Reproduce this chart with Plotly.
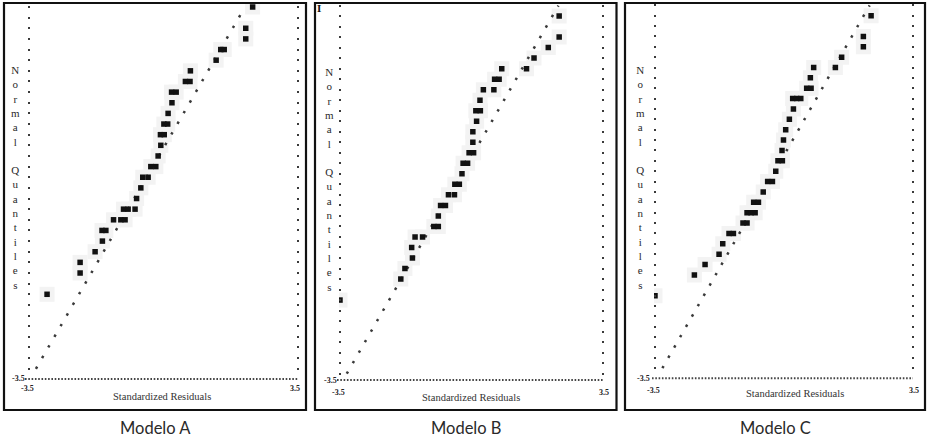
import plotly.graph_objects as go

W, H = 931, 443

# ---------------- data ----------------
model_names = ["Modelo A", "Modelo B", "Modelo C"]

resid_a = [2.32, 2.14, 2.14, 1.49, 1.58, 1.37, 0.70, 0.57, 0.69, 0.21, 0.33, 0.22, 0.12,
           0.01, 0.11, -0.08, 0.02, -0.07, -0.14, -0.33, -0.20, -0.54, -0.40, -0.59,
           -0.70, -1.04, -0.92, -0.74, -1.30, -1.11, -1.00, -1.60, -1.50, -1.59, -1.78,
           -2.17, -2.17, -3.03]
quant_a = [3.5, 3.1, 2.9, 2.7, 2.7, 2.5, 2.3, 2.1, 2.1, 1.9, 1.9, 1.7, 1.5,
           1.3, 1.3, 1.1, 1.1, 0.9, 0.7, 0.5, 0.5, 0.3, 0.3, 0.1,
           -0.1, -0.3, -0.3, -0.3, -0.5, -0.5, -0.5, -0.7, -0.7, -0.9, -1.1,
           -1.3, -1.5, -1.9]

resid_b = [2.34, 2.34, 2.05, 1.67, 1.47, 0.81, 0.62, 0.74, 0.32, 0.60, 0.23, 0.12, 0.24,
           0.14, 0.04, 0.04, -0.06, 0.06, -0.22, -0.10, -0.25, -0.44, -0.32, -0.61,
           -0.45, -0.82, -0.69, -0.88, -1.00, -0.88, -1.50, -1.30, -1.59, -1.57, -1.77,
           -1.88, -3.50]
quant_b = [3.3, 2.9, 2.7, 2.5, 2.3, 2.3, 2.1, 2.1, 1.9, 1.9, 1.7, 1.5, 1.5,
           1.3, 1.1, 0.9, 0.7, 0.7, 0.5, 0.5, 0.3, 0.1, 0.1, -0.1,
           -0.1, -0.3, -0.3, -0.5, -0.7, -0.7, -0.9, -0.9, -1.1, -1.3, -1.5,
           -1.7, -2.1]

resid_c = [2.37, 2.16, 2.16, 1.57, 1.40, 0.81, 0.72, 0.62, 0.74, 0.24, 0.35, 0.46, 0.26,
           0.15, 0.05, -0.01, -0.05, -0.16, -0.04, -0.22, -0.44, -0.31, -0.56, -0.82,
           -0.69, -1.00, -0.89, -0.78, -1.11, -1.00, -1.49, -1.37, -1.66, -1.76, -2.14,
           -2.43, -3.50]
quant_c = [3.3, 2.9, 2.7, 2.5, 2.3, 2.3, 2.1, 1.9, 1.9, 1.7, 1.7, 1.7, 1.5,
           1.3, 1.1, 0.9, 0.7, 0.5, 0.5, 0.3, 0.1, 0.1, -0.1, -0.3,
           -0.3, -0.5, -0.5, -0.5, -0.7, -0.7, -0.9, -0.9, -1.1, -1.3, -1.5,
           -1.7, -2.1]

# reference lines (end points)
ref_resid_a = [-3.32, 2.12]
ref_quant_a = [-3.3, 3.5]
ref_resid_b = [-3.32, 2.32]
ref_quant_b = [-3.5, 3.5]
ref_resid_c = [-3.30, 2.33]
ref_quant_c = [-3.5, 3.5]

x_tick_labels = ["-3.5", "3.5"]
y_tick_label = "-3.5"
x_title = "Standardized Residuals"
y_title = "Normal Quantiles"

# ---------------- layout geometry (pixels) ----------------
def px(x):
    return x / W

def py(y):
    return 1 - y / H

panels = [
    dict(resid=resid_a, quant=quant_a, rr=ref_resid_a, rq=ref_quant_a,
         frame=(4, 3, 306, 410), xdom=(28, 299), xr=3.526, ydom=(3, 380), yr=(-3.511, 3.575),
         bline=(25, 298, 379), ylab=(18.5, 378), xl0=(27.5, 388), xl1=(295, 388),
         xt=(162, 396), yt=(15, 177), name=(155, 428), dash="2.5px,9.8px"),
    dict(resid=resid_b, quant=quant_b, rr=ref_resid_b, rq=ref_quant_b,
         frame=(315, 3, 616.5, 410), xdom=(339, 603.7), xr=3.5266, ydom=(3, 380), yr=(-3.62, 3.548),
         bline=(337, 603, 380), ylab=(330.5, 380.5), xl0=(338.5, 392), xl1=(604, 392),
         xt=(471, 397), yt=(329, 179), name=(466, 428), dash="2.5px,9.6px"),
    dict(resid=resid_c, quant=quant_c, rr=ref_resid_c, rq=ref_quant_c,
         frame=(625, 3, 925, 410), xdom=(654, 913.7), xr=3.5272, ydom=(3, 378.5), yr=(-3.698, 3.544),
         bline=(652, 913, 378.3), ylab=(643.5, 378), xl0=(653.5, 390), xl1=(914, 390),
         xt=(794.5, 393), yt=(640, 177), name=(775, 428), dash="2.5px,9.4px"),
]

fig = go.Figure()
shapes = []
annotations = []
layout_axes = {}

serif = "Liberation Serif, Times New Roman, serif"
ytitle_text = "<br>".join(list("Normal")) + "<br>\u00a0<br>" + "<br>".join(list("Quantiles"))

for i, p in enumerate(panels, start=1):
    xa = "x" if i == 1 else f"x{i}"
    ya = "y" if i == 1 else f"y{i}"
    # grey halo behind points
    fig.add_trace(go.Scatter(x=p["resid"], y=p["quant"], xaxis=xa, yaxis=ya, mode="markers",
                             marker=dict(symbol="square", size=15, color="#f3f3f3"),
                             hoverinfo="skip", showlegend=False))
    # dotted reference line
    fig.add_trace(go.Scatter(x=p["rr"], y=p["rq"], xaxis=xa, yaxis=ya, mode="lines",
                             line=dict(color="#3a3a3a", width=2.5, dash=p["dash"]),
                             hoverinfo="skip", showlegend=False))
    # data points
    fig.add_trace(go.Scatter(x=p["resid"], y=p["quant"], xaxis=xa, yaxis=ya, mode="markers",
                             marker=dict(symbol="square", size=5.5, color="#111111"),
                             showlegend=False))

    xkey = "xaxis" if i == 1 else f"xaxis{i}"
    ykey = "yaxis" if i == 1 else f"yaxis{i}"
    layout_axes[xkey] = dict(domain=[px(p["xdom"][0]), px(p["xdom"][1])],
                             range=[-p["xr"], p["xr"]], anchor=ya,
                             showgrid=False, zeroline=False, showline=False,
                             showticklabels=False, ticks="", fixedrange=True)
    layout_axes[ykey] = dict(domain=[py(p["ydom"][1]), py(p["ydom"][0])],
                             range=list(p["yr"]), anchor=xa,
                             showgrid=False, zeroline=False, showline=False,
                             showticklabels=False, ticks="inside", ticklen=2, tickwidth=2,
                             tickcolor="#3a3a3a", tick0=3.5, dtick=0.2, mirror="ticks",
                             fixedrange=True)

    # frame
    x0, y0, x1, y1 = p["frame"]
    shapes.append(dict(type="rect", xref="paper", yref="paper",
                       x0=px(x0), x1=px(x1), y0=py(y1), y1=py(y0),
                       line=dict(color="#111111", width=2.2), fillcolor="rgba(0,0,0,0)", layer="above"))
    # bottom dotted axis line
    bx0, bx1, by = p["bline"]
    shapes.append(dict(type="line", xref="paper", yref="paper",
                       x0=px(bx0), x1=px(bx1), y0=py(by), y1=py(by),
                       line=dict(color="#444444", width=2, dash="1.6px,1.7px")))

    def ann(text, pos, size, bold=False, font=serif, color="#222222"):
        t = f"<b>{text}</b>" if bold else text
        annotations.append(dict(text=t, x=px(pos[0]), y=py(pos[1]), xref="paper", yref="paper",
                                xanchor="center", yanchor="middle", showarrow=False,
                                font=dict(family=font, size=size, color=color)))

    ann(y_tick_label, p["ylab"], 8, bold=True)
    ann(x_tick_labels[0], p["xl0"], 8, bold=True)
    ann(x_tick_labels[1], p["xl1"], 8, bold=True)
    ann(x_title, p["xt"], 10.5, color="#333333")
    ann(ytitle_text, p["yt"], 11, color="#2a2a2a")
    ann(model_names[i - 1], p["name"], 16.5, font="Lato, Open Sans, sans-serif", color="#2a2a2a")

# small mark in the top-left corner of panel B
annotations.append(dict(text="<b>I</b>", x=px(318.5), y=py(8), xref="paper", yref="paper",
                        xanchor="center", yanchor="middle", showarrow=False,
                        font=dict(family=serif, size=11, color="#111111")))

fig.update_layout(width=W, height=H, margin=dict(l=0, r=0, t=0, b=0),
                  paper_bgcolor="white", plot_bgcolor="white",
                  shapes=shapes, annotations=annotations, showlegend=False,
                  hovermode=False, **layout_axes)

fig.write_html("out.html", config={"displayModeBar": False, "staticPlot": True},
               post_script="document.body.style.margin='0';document.body.style.padding='0';")
